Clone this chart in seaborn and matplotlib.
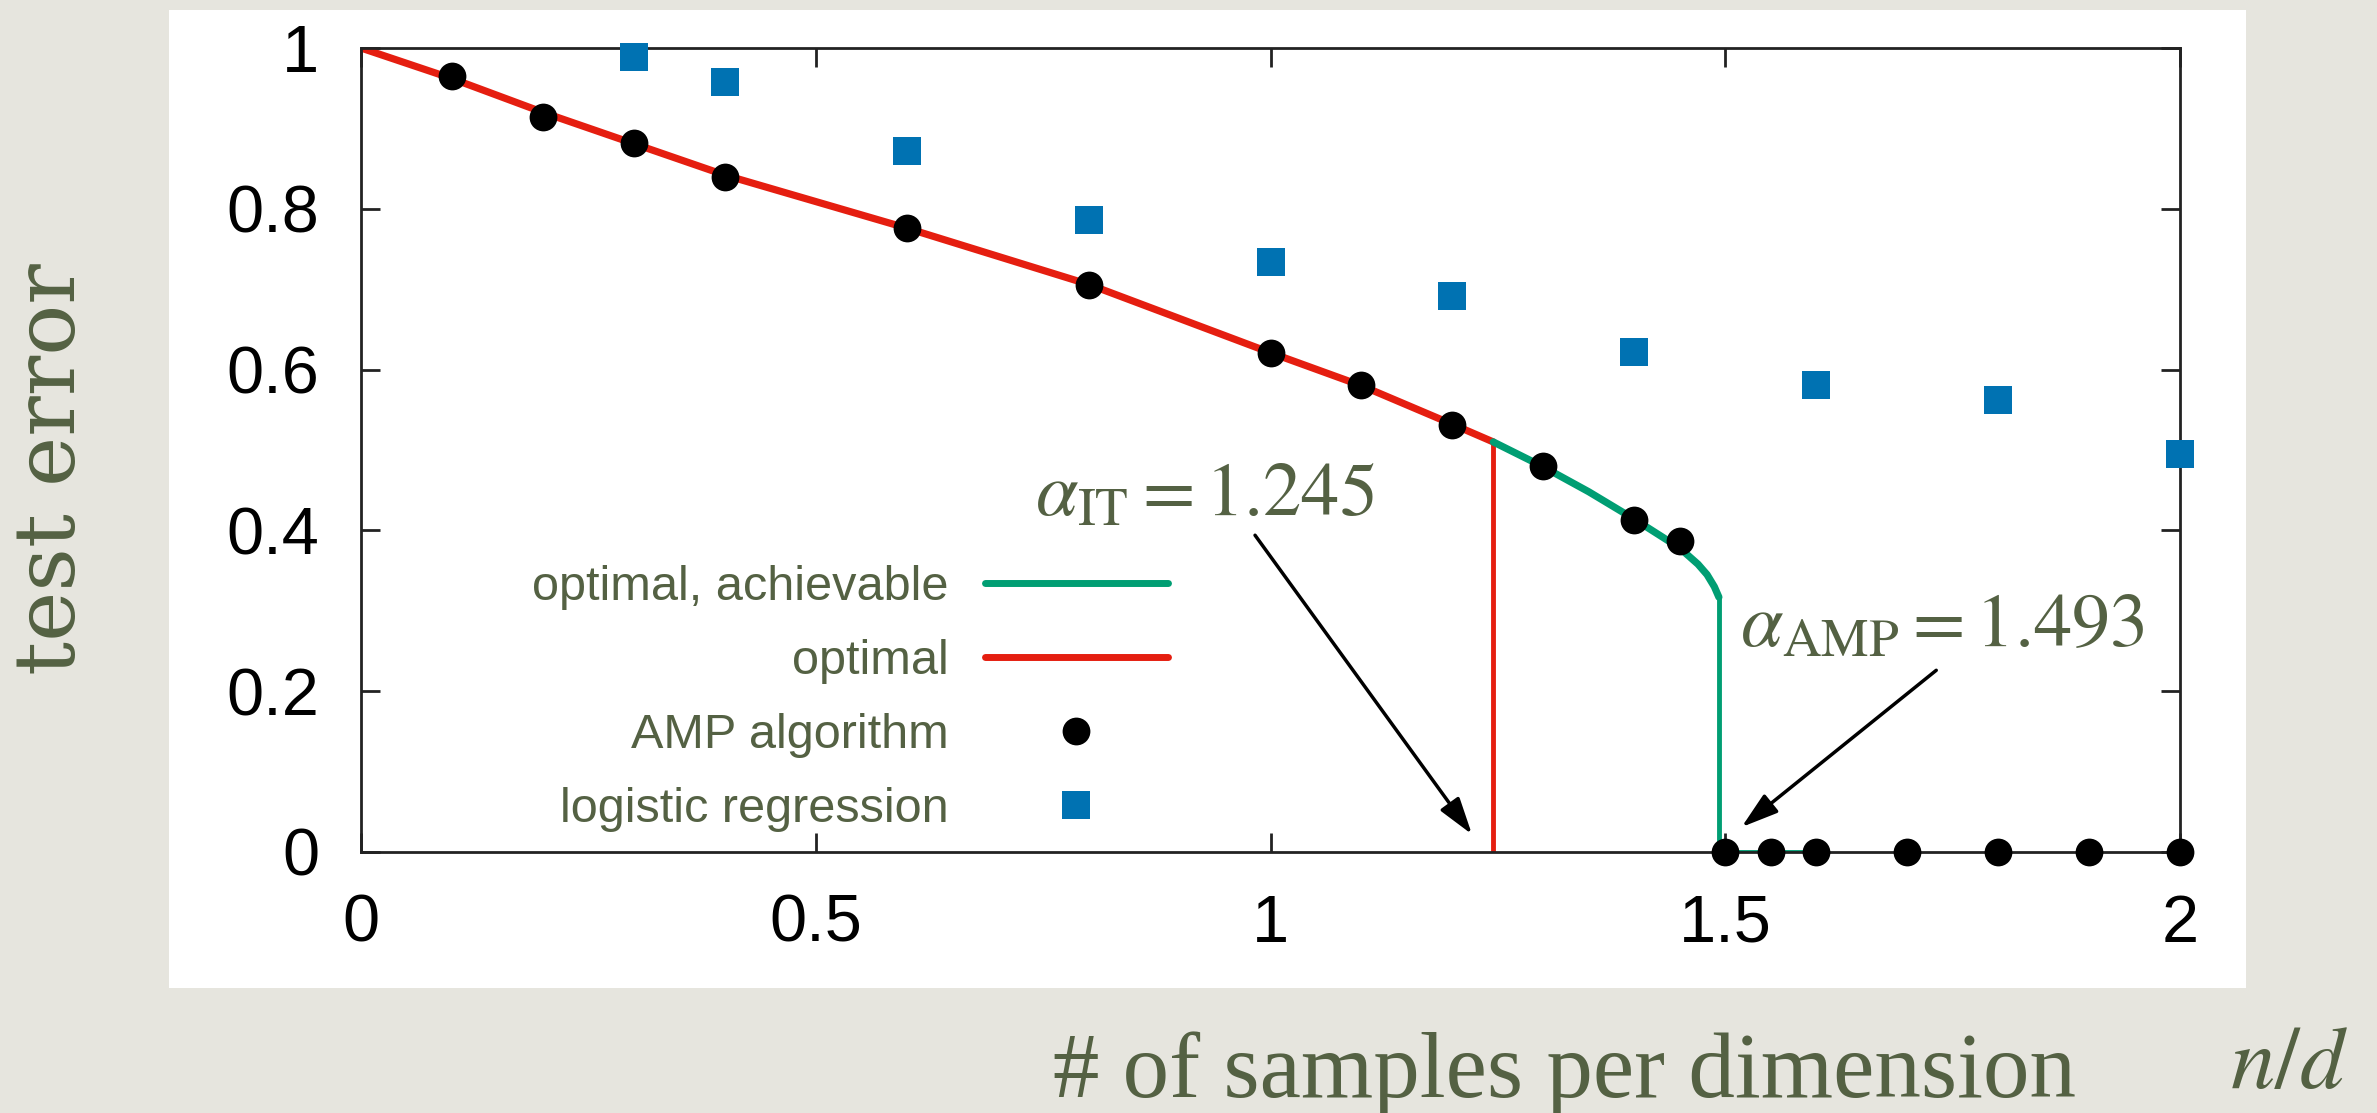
import pandas as pd
import matplotlib.pyplot as plt
import seaborn as sns
from matplotlib.lines import Line2D
from matplotlib.patches import Rectangle

# theory curve "optimal" (red), up to alpha_IT
opt_x = [0.0, 0.1, 0.2, 0.3, 0.4, 0.6, 0.8, 1.0, 1.1, 1.2, 1.245]
opt_y = [1.0, 0.962, 0.920, 0.881, 0.842, 0.776, 0.706, 0.621, 0.580, 0.532, 0.510]

# theory curve "optimal, achievable" (green), from alpha_IT to alpha_AMP
ach_x = [1.245, 1.3, 1.35, 1.4, 1.45, 1.47, 1.48, 1.488, 1.493]
ach_y = [0.510, 0.479, 0.448, 0.414, 0.378, 0.358, 0.345, 0.330, 0.317]

alpha_it = 1.245
alpha_amp = 1.493
ach_zero_end = 1.6

# AMP algorithm points
amp_x = [0.1, 0.2, 0.3, 0.4, 0.6, 0.8, 1.0, 1.1, 1.2, 1.3, 1.4, 1.45,
         1.5, 1.55, 1.6, 1.7, 1.8, 1.9, 2.0]
amp_y = [0.965, 0.914, 0.882, 0.840, 0.776, 0.705, 0.621, 0.581, 0.531, 0.480, 0.413, 0.387,
         0.0, 0.0, 0.0, 0.0, 0.0, 0.0, 0.0]

# logistic regression points
log_x = [0.3, 0.4, 0.6, 0.8, 1.0, 1.2, 1.4, 1.6, 1.8, 2.0]
log_y = [0.989, 0.958, 0.872, 0.786, 0.734, 0.692, 0.622, 0.581, 0.562, 0.495]

x_ticks = [0, 0.5, 1, 1.5, 2]
x_tick_labels = ['0', '0.5', '1', '1.5', '2']
y_ticks = [0, 0.2, 0.4, 0.6, 0.8, 1]
y_tick_labels = ['0', '0.2', '0.4', '0.6', '0.8', '1']

legend_labels = ['optimal, achievable', 'optimal', 'AMP algorithm', 'logistic regression']

red = '#e51e10'
green = '#009e73'
blue = '#0072b2'
olive = '#546143'
bg = '#e6e5de'

sns.set_style('ticks')
plt.rcParams['font.family'] = ['Liberation Sans', 'DejaVu Sans']
plt.rcParams['mathtext.fontset'] = 'stix'

fig = plt.figure(figsize=(23.77, 11.13), dpi=100)
fig.patch.set_facecolor(bg)
fig.patches.append(Rectangle((169 / 2377, 1 - 988 / 1113), (2246 - 169) / 2377, (988 - 10) / 1113,
                             transform=fig.transFigure, facecolor='white', edgecolor='none', zorder=-1))

ax = fig.add_axes([361 / 2377, 1 - 852 / 1113, (2180 - 361) / 2377, (852 - 48) / 1113])
ax.set_facecolor('white')

opt_df = pd.DataFrame({'x': opt_x, 'y': opt_y})
ach_df = pd.DataFrame({'x': ach_x, 'y': ach_y})
sns.lineplot(data=opt_df, x='x', y='y', color=red, lw=5.2, sort=False, estimator=None, ax=ax, zorder=2)
ax.vlines(alpha_it, 0, opt_y[-1], color=red, lw=3.5, zorder=2)
sns.lineplot(data=ach_df, x='x', y='y', color=green, lw=5.2, sort=False, estimator=None, ax=ax, zorder=2)
ax.vlines(alpha_amp, 0, ach_y[-1], color=green, lw=3.5, zorder=2)
ax.hlines(0, alpha_amp, ach_zero_end, color=green, lw=3.5, zorder=2)

sns.scatterplot(x=amp_x, y=amp_y, color='black', s=400, marker='o', linewidth=0, ax=ax,
                zorder=4, clip_on=False)
sns.scatterplot(x=log_x, y=log_y, color=blue, s=400, marker='s', linewidth=0, ax=ax,
                zorder=4, clip_on=False)

ax.set_xlim(0, 2)
ax.set_ylim(0, 1)
ax.set_xticks(x_ticks)
ax.set_xticklabels(x_tick_labels)
ax.set_yticks(y_ticks)
ax.set_yticklabels(y_tick_labels)
ax.set_xlabel('')
ax.set_ylabel('')
ax.tick_params(direction='in', top=True, right=True, length=14, width=2, labelsize=48, colors='#222222')
ax.tick_params(axis='x', pad=30, labelcolor='black')
ax.tick_params(axis='y', pad=30, labelcolor='black')
for sp in ax.spines.values():
    sp.set_linewidth(2)
    sp.set_color('#222222')
    sp.set_zorder(3)

# annotations
ax.text(0.741, 0.418, r'$\alpha_{\mathrm{IT}} = 1.245$', fontsize=55, color=olive,
        ha='left', va='baseline')
ax.text(1.516, 0.256, r'$\alpha_{\mathrm{AMP}} = 1.493$', fontsize=55, color=olive,
        ha='left', va='baseline')
arrow = dict(arrowstyle='-|>,head_length=0.9,head_width=0.28', lw=2.5, color='black',
             shrinkA=0, shrinkB=0, mutation_scale=25)
ax.annotate('', xy=(1.2215, 0.022), xytext=(0.983, 0.394), arrowprops=arrow)
ax.annotate('', xy=(1.518, 0.031), xytext=(1.732, 0.226), arrowprops=arrow)

handles = [Line2D([], [], color=green, lw=5),
           Line2D([], [], color=red, lw=5),
           Line2D([], [], ls='', marker='o', ms=20, color='black', mew=0),
           Line2D([], [], ls='', marker='s', ms=20, color=blue, mew=0)]
leg = ax.legend(handles, legend_labels, markerfirst=False, frameon=False, fontsize=35,
                handlelength=3.77, handletextpad=0.74, labelspacing=0.6,
                loc='upper right', bbox_to_anchor=((1168 - 361) / 1819, (852 - 565) / 804),
                borderpad=0, borderaxespad=0)
for t in leg.get_texts():
    t.set_color(olive)

# slide-style axis titles
fig.text(52 / 2377, 1 - 469 / 1113, 'test error', rotation=90, fontsize=61, color=olive,
         family='DejaVu Serif', ha='center', va='center')
fig.text(1053 / 2377, 1 - 1097 / 1113, '# of samples per dimension', fontsize=67, color=olive,
         family='Liberation Serif', ha='left', va='baseline')
fig.text(2230 / 2377, 1 - 1088 / 1113, r'$n/d$', fontsize=64, color=olive,
         ha='left', va='baseline')

fig.savefig('out.png', dpi=100, facecolor=fig.get_facecolor())
